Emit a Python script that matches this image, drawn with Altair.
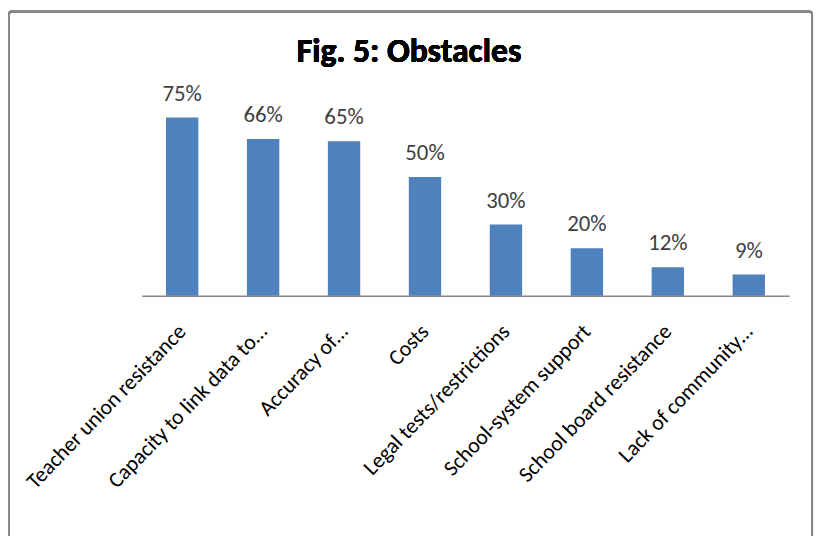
import altair as alt
import pandas as pd

categories = [
    "Teacher union resistance",
    "Capacity to link data to…",
    "Accuracy of…",
    "Costs",
    "Legal tests/restrictions",
    "School-system support",
    "School board resistance",
    "Lack of community…",
]
values = [0.75, 0.66, 0.65, 0.50, 0.30, 0.20, 0.12, 0.09]
labels = ["75%", "66%", "65%", "50%", "30%", "20%", "12%", "9%"]
title_text = "Fig. 5: Obstacles"

df = pd.DataFrame({"cat": categories, "val": values, "lab": labels})

FONT = "Carlito, 'Liberation Sans Narrow', 'Open Sans', sans-serif"

x = alt.X(
    "cat:N",
    sort=categories,
    scale=alt.Scale(paddingInner=0.6, paddingOuter=0.3),
    axis=alt.Axis(
        title=None,
        labelAngle=-46,
        labelAlign="right",
        labelBaseline="middle",
        labelPadding=32,
        labelFontSize=22,
        labelFont=FONT,
        labelColor="#000000",
        labelLimit=400,
        ticks=False,
        domainColor="#888888",
        domainWidth=1.5,
    ),
)
y = alt.Y("val:Q", scale=alt.Scale(domain=[0, 0.8]), axis=None)

bars = alt.Chart(df).mark_bar(color="#4F81BD").encode(x=x, y=y)
text = alt.Chart(df).mark_text(
    baseline="alphabetic", dy=-17, fontSize=23, font=FONT, color="#404040"
).encode(x=x, y=y, text="lab:N")

frame = alt.Chart(df).mark_rect(
    filled=False, stroke="#888888", strokeWidth=2, cornerRadius=3
).encode(
    x=alt.value(-134), x2=alt.value(677), y=alt.value(-95), y2=alt.value(600)
)

title = alt.Chart(df).mark_text(
    font=FONT, fontSize=34, fontWeight="bold", color="#000000",
    align="center", baseline="alphabetic",
).encode(
    x=alt.value(270), y=alt.value(-44), text=alt.value(title_text)
)

chart = (
    alt.layer(frame, bars, text, title)
    .properties(
        width=654,
        height=192,
        padding={"left": 135, "top": 96, "right": 26, "bottom": 240},
        autosize=alt.AutoSizeParams(type="none"),
    )
    .configure_view(stroke=None)
)

chart.save("out.html", embed_options={"renderer": "svg", "actions": False})
